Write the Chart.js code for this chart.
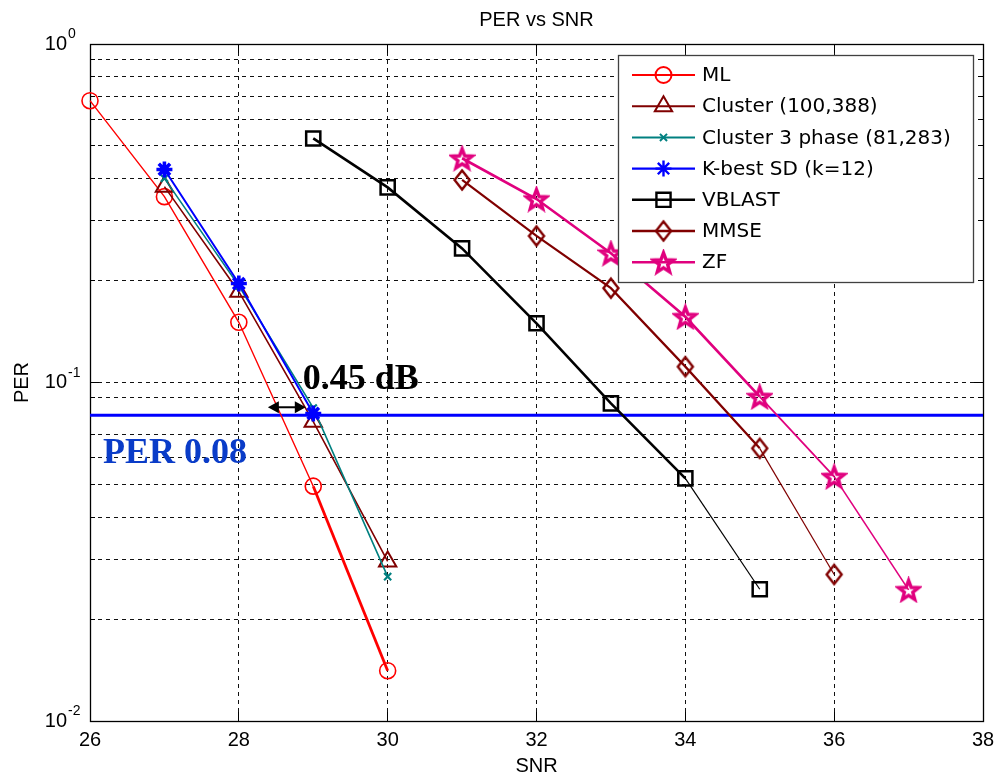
<!DOCTYPE html>
<html>
<head>
<meta charset="utf-8">
<title>PER vs SNR</title>
<script src="https://cdn.jsdelivr.net/npm/chart.js@4/dist/chart.umd.min.js"></script>
<style>
  html, body { margin: 0; padding: 0; background: #fff; }
  canvas { display: block; }
</style>
</head>
<body>
<canvas id="chart" width="1002" height="778"></canvas>
<script>
// values
const SNR_ML = [26, 27, 28, 29, 30];
const PER_ML = [0.680, 0.354, 0.1506, 0.0494, 0.01408];

const SNR_CLUSTER = [27, 28, 29, 30];
const PER_CLUSTER = [0.379, 0.1855, 0.0766, 0.0296];

const SNR_CLUSTER3 = [27, 28, 29, 30];
const PER_CLUSTER3 = [0.401, 0.193, 0.0841, 0.0267];

const SNR_KBEST = [27, 28, 29];
const PER_KBEST = [0.426, 0.196, 0.081];

const SNR_VBLAST = [29, 30, 31, 32, 33, 34, 35];
const PER_VBLAST = [0.526, 0.377, 0.249, 0.1496, 0.0868, 0.0521, 0.0245];

const SNR_MMSE = [31, 32, 33, 34, 35, 36];
const PER_MMSE = [0.3965, 0.271, 0.190, 0.1114, 0.0639, 0.0271];

const SNR_ZF = [31, 32, 33, 34, 35, 36, 37];
const PER_ZF = [0.4597, 0.3484, 0.2408, 0.1564, 0.0908, 0.0527, 0.0244];

const LABELS = ["ML", "Cluster (100,388)", "Cluster 3 phase (81,283)", "K-best SD (k=12)", "VBLAST", "MMSE", "ZF"];

const X_TICKS = [26, 28, 30, 32, 34, 36, 38];
const Y_GRID = [0.01, 0.02, 0.03, 0.04, 0.05, 0.06, 0.07, 0.08, 0.09,
                0.1, 0.2, 0.3, 0.4, 0.5, 0.6, 0.7, 0.8, 0.9, 1];
const Y_DECADES = [0.01, 0.1, 1];
const Y_EXPONENTS = ["-2", "-1", "0"];

const PER_TARGET = 0.08;
const PER_TARGET_SNR = [26, 38];
const GAP_ARROW_SNR = [28.39, 28.9];
const GAP_ARROW_PER = 0.0845;
const GAP_TEXT = "0.45 dB";
const GAP_TEXT_AT = [28.86, 0.096];
const TARGET_TEXT = "PER 0.08";
const TARGET_TEXT_AT = [26.175, 0.0577];

(() => {
  const $ = (s) => document.querySelector(s);
  const SANS = "'Liberation Sans', Arial, sans-serif";
  const SERIF = "'Liberation Serif', 'Times New Roman', serif";

  function pentagram(color, r, lw) {
    const s = Math.ceil(2 * r + lw + 2);
    const c = document.createElement("canvas");
    c.width = s; c.height = s;
    const g = c.getContext("2d");
    g.translate(s / 2, s / 2 + r * 0.1);
    g.beginPath();
    for (let i = 0; i < 10; i++) {
      const rad = i % 2 ? r * 0.42 : r;
      const ang = -Math.PI / 2 + i * Math.PI / 5;
      g.lineTo(rad * Math.cos(ang), rad * Math.sin(ang));
    }
    g.closePath();
    g.strokeStyle = color; g.lineWidth = lw; g.lineJoin = "miter";
    g.stroke();
    return c;
  }

  function diamond(color, hw, hh, lw) {
    const w = Math.ceil(2 * hw + lw + 2), h = Math.ceil(2 * hh + lw + 2);
    const c = document.createElement("canvas");
    c.width = w; c.height = h;
    const g = c.getContext("2d");
    g.translate(w / 2, h / 2);
    g.beginPath();
    g.moveTo(0, -hh); g.lineTo(hw, 0); g.lineTo(0, hh); g.lineTo(-hw, 0);
    g.closePath();
    g.strokeStyle = color; g.lineWidth = lw; g.lineJoin = "miter";
    g.stroke();
    return c;
  }

  const pts = (xs, ys) => xs.map((x, i) => ({ x, y: ys[i] }));

  // per-series look: colour, marker, marker size, line widths per segment
  const STYLE = [
    { color: "#ff0000", marker: "circle", radius: 8, mw: 1.6, seg: [1.4, 1.4, 1.4, 2.8], lw: 2 },
    { color: "#800000", marker: "triangle", radius: 10, mw: 2, seg: [1.6, 1.6, 1.6], lw: 2 },
    { color: "#008080", marker: "crossRot", radius: 5, mw: 2.2, seg: [1.6, 1.6, 1.6], lw: 2 },
    { color: "#0000ff", marker: "star", radius: 8, mw: 3.6, seg: [2, 2], lw: 2.4 },
    { color: "#000000", marker: "rect", radius: 10, mw: 2.5, seg: [2.6, 2.6, 2.6, 2.6, 2.6, 1.2], lw: 2.4 },
    { color: "#800000", marker: diamond("#800000", 7.5, 9.5, 2.4), radius: 10, mw: 2.4, seg: [2.2, 2.2, 2.2, 2.2, 1.2], lw: 2.4 },
    { color: "#e0007e", marker: pentagram("#e0007e", 10.5, 3.4), radius: 11, mw: 3.4, seg: [2.6, 2.6, 2.6, 2.6, 1.8, 1.6], lw: 2.4 },
  ];

  const SERIES = [
    pts(SNR_ML, PER_ML),
    pts(SNR_CLUSTER, PER_CLUSTER),
    pts(SNR_CLUSTER3, PER_CLUSTER3),
    pts(SNR_KBEST, PER_KBEST),
    pts(SNR_VBLAST, PER_VBLAST),
    pts(SNR_MMSE, PER_MMSE),
    pts(SNR_ZF, PER_ZF),
  ];

  const datasets = SERIES.map((data, i) => {
    const st = STYLE[i];
    return {
      label: LABELS[i],
      data,
      order: 10 - i,
      clip: false,
      borderColor: st.color,
      backgroundColor: st.color,
      borderWidth: st.seg[0],
      segment: { borderWidth: (c) => st.seg[c.p0DataIndex] },
      pointStyle: st.marker,
      pointRadius: st.radius,
      pointBorderWidth: st.mw,
      pointBorderColor: st.color,
      pointBackgroundColor: st.marker === "star" ? st.color : "rgba(0,0,0,0)",
      fill: false,
      tension: 0,
    };
  });

  datasets.push({
    label: "target",
    isMark: true,
    data: pts(PER_TARGET_SNR, [PER_TARGET, PER_TARGET]),
    order: 11,
    borderColor: "#0000ff",
    borderWidth: 3,
    pointRadius: 0,
    fill: false,
  });

  const frame = {
    id: "frame",
    beforeDatasetsDraw(chart) {
      const { ctx, chartArea: a, scales: { x, y } } = chart;
      const al = (p) => Math.round(p - 0.5) + 0.5;
      ctx.save();
      ctx.strokeStyle = "#000";
      ctx.lineWidth = 1;
      ctx.setLineDash([]);
      ctx.beginPath();
      for (const v of X_TICKS) {
        const px = al(x.getPixelForValue(v));
        ctx.moveTo(px, a.bottom); ctx.lineTo(px, a.bottom - 9);
        ctx.moveTo(px, a.top); ctx.lineTo(px, a.top + 9);
      }
      for (const v of Y_GRID) {
        const len = Y_DECADES.includes(v) ? 9 : 5;
        const py = al(y.getPixelForValue(v));
        ctx.moveTo(a.left, py); ctx.lineTo(a.left + len, py);
        ctx.moveTo(a.right, py); ctx.lineTo(a.right - len, py);
      }
      ctx.stroke();
      ctx.lineWidth = 1.3;
      ctx.strokeRect(al(a.left), al(a.top), Math.round(a.width), Math.round(a.height));
      ctx.restore();
    },
    afterDatasetsDraw(chart) {
      const { ctx, chartArea: a, scales: { x, y } } = chart;
      ctx.save();

      // gap arrow between ML and K-best at the target PER
      const x1 = x.getPixelForValue(GAP_ARROW_SNR[0]);
      const x2 = x.getPixelForValue(GAP_ARROW_SNR[1]);
      const ay = y.getPixelForValue(GAP_ARROW_PER);
      ctx.strokeStyle = "#000"; ctx.fillStyle = "#000"; ctx.lineWidth = 2;
      ctx.beginPath(); ctx.moveTo(x1 + 8, ay); ctx.lineTo(x2 - 8, ay); ctx.stroke();
      ctx.beginPath();
      ctx.moveTo(x1, ay); ctx.lineTo(x1 + 11, ay - 6); ctx.lineTo(x1 + 11, ay + 6); ctx.closePath();
      ctx.moveTo(x2, ay); ctx.lineTo(x2 - 11, ay - 6); ctx.lineTo(x2 - 11, ay + 6); ctx.closePath();
      ctx.fill();

      ctx.font = `bold 36px ${SERIF}`;
      ctx.textAlign = "left"; ctx.textBaseline = "alphabetic";
      ctx.fillStyle = "#000";
      ctx.fillText(GAP_TEXT, x.getPixelForValue(GAP_TEXT_AT[0]), y.getPixelForValue(GAP_TEXT_AT[1]));
      ctx.fillStyle = "#0a3cc8";
      ctx.fillText(TARGET_TEXT, x.getPixelForValue(TARGET_TEXT_AT[0]), y.getPixelForValue(TARGET_TEXT_AT[1]));

      // legend box in the upper right corner
      const lx = a.right - 365, ly = a.top + 11, lw = 355, lh = 227, row = 31.2;
      ctx.fillStyle = "#fff";
      ctx.fillRect(lx, ly, lw, lh);
      ctx.strokeStyle = "#404040"; ctx.lineWidth = 1.3;
      ctx.strokeRect(Math.round(lx) + 0.5, Math.round(ly) + 0.5, lw, lh);
      ctx.font = `20px 'DejaVu Sans', ${SANS}`;
      ctx.textBaseline = "middle";
      chart.data.datasets.filter((d) => !d.isMark).forEach((d, i) => {
        const st = STYLE[i];
        const ry = ly + 20 + i * row;
        ctx.strokeStyle = st.color; ctx.lineWidth = st.lw;
        ctx.beginPath(); ctx.moveTo(lx + 14, ry); ctx.lineTo(lx + 77, ry); ctx.stroke();
        ctx.fillStyle = d.pointBackgroundColor;
        ctx.strokeStyle = st.color;
        Chart.helpers.drawPoint(ctx, { pointStyle: st.marker, radius: st.radius, rotation: 0, borderWidth: st.mw }, lx + 45.5, ry);
        ctx.fillStyle = "#000";
        ctx.fillText(d.label, lx + 84, ry + 1);
      });

      ctx.restore();
    },
    afterDraw(chart) {
      // superscript exponents next to the "10" tick labels
      const { ctx, chartArea: a, scales: { y } } = chart;
      ctx.save();
      ctx.font = `14px ${SANS}`;
      ctx.fillStyle = "#000";
      ctx.textAlign = "left"; ctx.textBaseline = "alphabetic";
      Y_DECADES.forEach((v, i) => {
        ctx.fillText(Y_EXPONENTS[i], a.left - 22, y.getPixelForValue(v) - 6);
      });
      ctx.restore();
    },
  };

  new Chart($("#chart"), {
    type: "line",
    data: { datasets },
    options: {
      responsive: false,
      animation: false,
      events: [],
      layout: { padding: { left: 0, right: 19, top: 0, bottom: 0 } },
      plugins: {
        legend: { display: false },
        tooltip: { enabled: false },
        title: {
          display: true,
          text: "PER vs SNR",
          fullSize: false,
          color: "#000",
          font: { family: SANS, size: 20, weight: "normal", lineHeight: 1.2 },
          padding: { top: 8, bottom: 12 },
        },
      },
      scales: {
        x: {
          type: "linear",
          min: 26,
          max: 38,
          afterBuildTicks: (s) => { s.ticks = X_TICKS.map((v) => ({ value: v })); },
          afterFit: (s) => { s.height = 57; },
          ticks: { color: "#000", padding: 7, font: { family: SANS, size: 20 }, maxRotation: 0, autoSkip: false },
          grid: { color: "#111", lineWidth: 1, drawTicks: false },
          border: { display: false, dash: [4, 4] },
          title: { display: true, text: "SNR", color: "#000", font: { family: SANS, size: 20 }, padding: { top: 0, bottom: 0 } },
        },
        y: {
          type: "logarithmic",
          min: 0.01,
          max: 1,
          afterBuildTicks: (s) => { s.ticks = Y_GRID.map((v) => ({ value: v, major: Y_DECADES.includes(v) })); },
          afterFit: (s) => { s.width = 90; },
          ticks: {
            color: "#000",
            padding: 23,
            autoSkip: false,
            font: { family: SANS, size: 20 },
            callback: (v) => (Y_DECADES.includes(v) ? "10" : ""),
          },
          grid: { color: "#111", lineWidth: 1, drawTicks: false },
          border: { display: false, dash: [4, 4] },
          title: { display: true, text: "PER", color: "#000", font: { family: SANS, size: 20 }, padding: { top: 10, bottom: 0 } },
        },
      },
    },
    plugins: [frame],
  });
})();
</script>
</body>
</html>
